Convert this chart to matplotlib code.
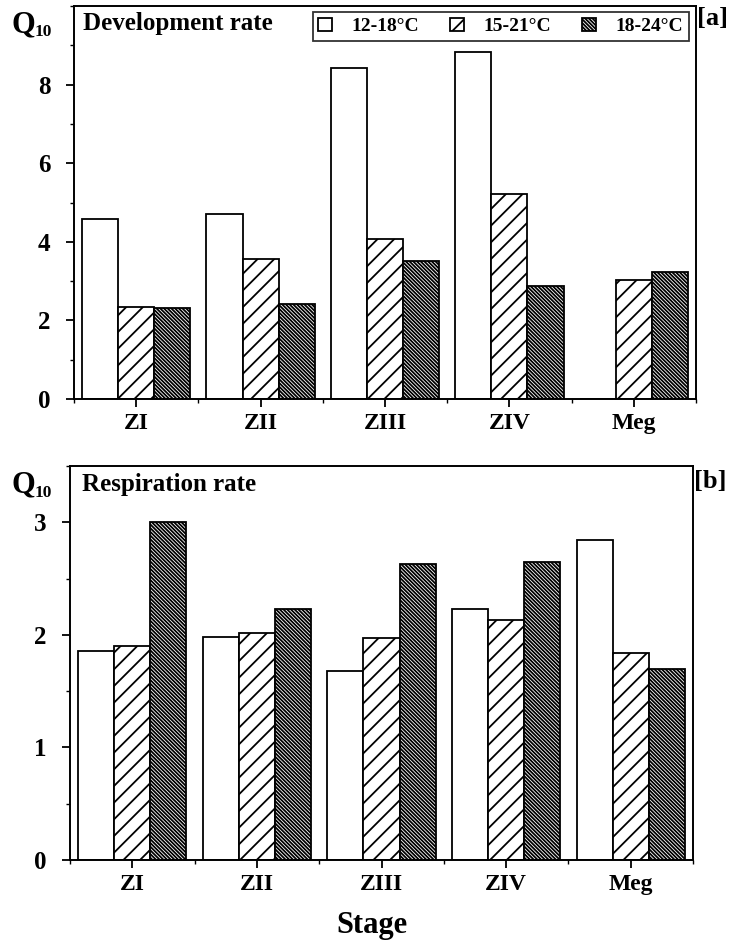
import numpy as np
import matplotlib.pyplot as plt
from matplotlib.ticker import MultipleLocator

plt.rcParams['font.family'] = 'Liberation Serif'
plt.rcParams['font.weight'] = 'bold'
plt.rcParams['hatch.linewidth'] = 1.3

# Q10 values per larval stage for three temperature ranges
stages = ["ZI", "ZII", "ZIII", "ZIV", "Meg"]
ranges = ["12-18\u00b0C", "15-21\u00b0C", "18-24\u00b0C"]

dev_12_18 = [4.59, 4.72, 8.43, 8.84, 0.0]
dev_15_21 = [2.33, 3.56, 4.06, 5.22, 3.02]
dev_18_24 = [2.31, 2.42, 3.50, 2.87, 3.23]

resp_12_18 = [1.86, 1.98, 1.68, 2.23, 2.84]
resp_15_21 = [1.90, 2.02, 1.97, 2.13, 1.84]
resp_18_24 = [3.00, 2.23, 2.63, 2.65, 1.70]

x = np.arange(len(stages))
w = 0.29
styles = [dict(facecolor='white', hatch=None),
          dict(facecolor='white', hatch='//'),
          dict(facecolor='white', hatch='\\' * 9)]

fig = plt.figure(figsize=(7.36, 9.5), dpi=100)
ax1 = fig.add_axes([0.1005, 0.58, 0.8452, 0.4136])
ax2 = fig.add_axes([0.0951, 0.0947, 0.8465, 0.4148])


def draw(ax, series, ymax, yticks, minor):
    for i, (vals, st) in enumerate(zip(series, styles)):
        ax.bar(x + (i - 1) * w, vals, w, edgecolor='black', linewidth=1.3,
               label=ranges[i], **st)
    ax.set_xlim(-0.5, 4.5)
    ax.set_ylim(0, ymax)
    ax.set_xticks(x)
    ax.set_xticklabels(stages, fontsize=17, fontweight='bold')
    ax.set_yticks(yticks)
    ax.set_yticklabels([str(t) for t in yticks], fontsize=18, fontweight='bold')
    ax.xaxis.set_minor_locator(MultipleLocator(1, offset=0.5))
    ax.yaxis.set_minor_locator(MultipleLocator(minor))
    ax.tick_params(axis='both', which='major', direction='out', length=6,
                   width=1.3, top=False, right=False)
    ax.tick_params(axis='both', which='minor', direction='out', length=3,
                   width=1.0, top=False, right=False)
    ax.tick_params(axis='y', which='major', pad=11)
    ax.tick_params(axis='x', which='major', pad=4)
    for s in ax.spines.values():
        s.set_linewidth(1.4)


draw(ax1, [dev_12_18, dev_15_21, dev_18_24], 10, [0, 2, 4, 6, 8], 1)
draw(ax2, [resp_12_18, resp_15_21, resp_18_24], 3.5, [0, 1, 2, 3], 0.5)

ax1.text(0.014, 0.955, "Development rate", transform=ax1.transAxes,
         fontsize=18, fontweight='bold', va='center', ha='left')
ax2.text(0.019, 0.954, "Respiration rate", transform=ax2.transAxes,
         fontsize=18, fontweight='bold', va='center', ha='left')

leg = ax1.legend(loc='upper right', ncol=3, frameon=True, fancybox=False,
                 edgecolor='black', fontsize=14, handlelength=0.7,
                 handleheight=0.7, columnspacing=1.6, handletextpad=1.0,
                 borderpad=0.3, borderaxespad=0,
                 bbox_to_anchor=(0.988, 0.985))
leg.get_frame().set_linewidth(1.3)

# Q10 labels above each y axis
for yq in (0.974, 0.489):
    fig.text(0.015, yq, "Q", fontsize=22, fontweight='bold',
             va='center', ha='left')
    fig.text(0.047, yq - 0.008, "10", fontsize=12.5, fontweight='bold',
             va='center', ha='left')

fig.text(0.947, 0.981, "[a]", fontsize=19, fontweight='bold', va='center')
fig.text(0.943, 0.493, "[b]", fontsize=19, fontweight='bold', va='center')

fig.text(0.506, 0.026, "Stage", fontsize=22, fontweight='bold',
         ha='center', va='center')

fig.savefig('out.png', dpi=100)
